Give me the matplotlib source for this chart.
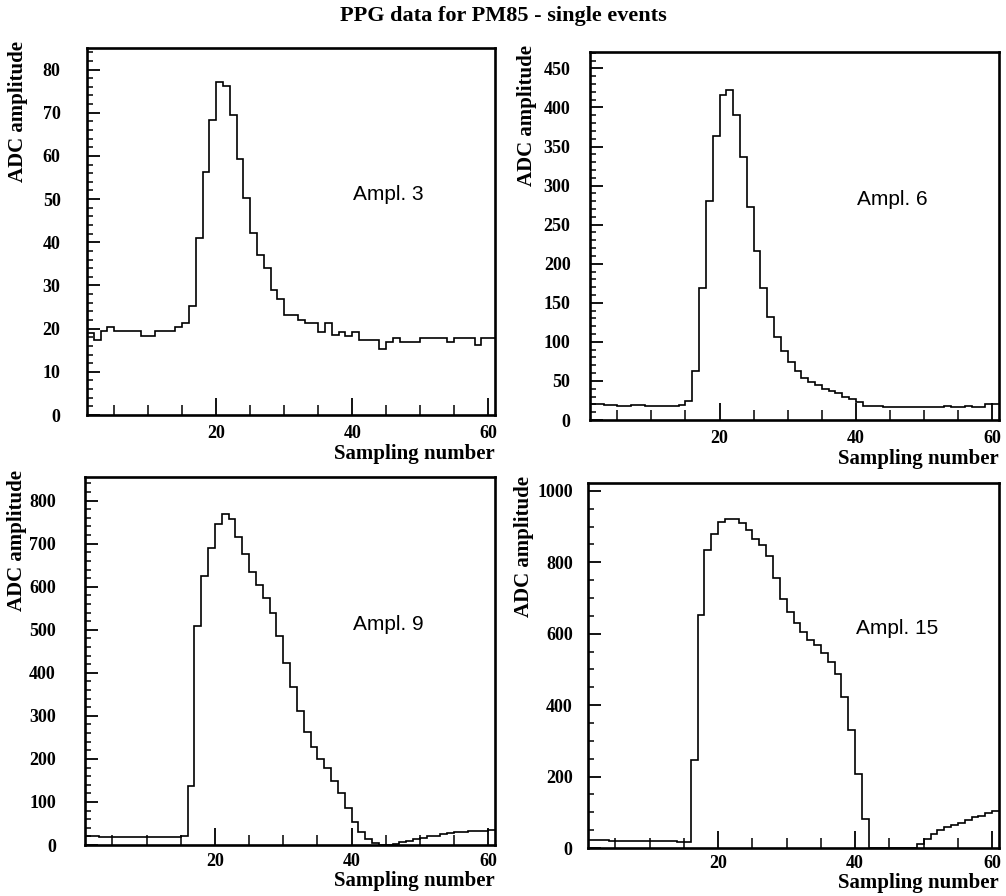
import numpy as np
import matplotlib
matplotlib.use("Agg")
import matplotlib.pyplot as plt
from matplotlib.ticker import MultipleLocator

# sampling bins 1..61 (60 samples)
edges = np.arange(1, 62)

ampl3 = [19.0, 17.4, 19.4, 20.4, 19.4, 19.4, 19.4, 19.4, 18.2, 18.2,
         19.4, 19.4, 19.4, 20.4, 21.4, 25.3, 41.1, 56.3, 68.4, 77.2,
         76.2, 69.4, 59.3, 50.2, 42.1, 37.0, 34.1, 28.9, 26.9, 23.2,
         23.2, 22.0, 21.2, 21.2, 19.3, 21.2, 18.5, 19.3, 18.3, 19.3,
         17.4, 17.4, 17.4, 15.3, 17.0, 17.9, 17.0, 17.0, 17.0, 17.9,
         17.9, 17.9, 17.9, 17.0, 17.9, 17.9, 17.9, 16.2, 17.9, 17.9]

ampl6 = [20, 20, 19, 19, 18.5, 18.5, 19.5, 19.5, 18, 18,
         18, 18, 18, 19.5, 24.5, 63, 169, 280, 364, 416,
         423, 391, 337, 273, 216, 169, 132, 106, 88, 74,
         63, 53.5, 49, 44.6, 40.3, 37.3, 34, 30, 26.7, 22.5,
         18, 18, 18, 16, 16, 16, 16, 16, 17, 16,
         17, 17, 18, 17, 17, 18, 17, 17, 20, 20]

ampl9 = [20, 20, 19, 19, 19, 19, 19, 19, 19, 19,
         19, 19, 19, 19, 20, 137, 508, 626, 691, 746,
         770, 758, 715, 675, 634, 603, 574, 539, 485, 423,
         366, 312, 263, 227, 199, 178, 149, 121, 87, 54,
         31, 13, 4, 1, 0, 3, 6, 10, 14, 17,
         20, 22, 25, 27, 30, 31, 32, 32, 33, 36]

ampl15 = [22, 22, 22, 21, 21, 21, 20, 20, 20, 20,
          19, 19, 19, 18, 18, 246, 652, 835, 879, 914,
          920, 921, 909, 890, 865, 849, 818, 756, 698, 661,
          629, 605, 583, 568, 545, 521, 487, 424, 330, 206,
          82, 0, 0, 0, 0, 0, 0, 0, 10, 24,
          38, 51, 58, 65, 70, 79, 86, 91, 98, 104]

series = [ampl3, ampl6, ampl9, ampl15]
labels = ["Ampl. 3", "Ampl. 6", "Ampl. 9", "Ampl. 15"]
ymax = [85, 471, 855, 1022]
ymajor = [10, 50, 100, 200]
yminor = [2, 10, 20, 50]
ypad = [19, 14, 21, 11]
ylab_px = [18, 527, 17, 524]          # centre of the y label, pixels
xtickpad = [7, 7, 6, 5]
xlabpad = [1.5, 1.5, 0.5, 0.5]

W, H = 1006, 896
# axes boxes in pixels: left, top, right, bottom
boxes = [(87, 48, 495, 415), (590, 52, 999, 420),
         (85, 477, 495, 845), (588, 483, 999, 848)]

serif = "Liberation Serif"
fig = plt.figure(figsize=(W / 100, H / 100), dpi=100)

for i, vals in enumerate(series):
    l, t, r, b = boxes[i]
    ax = fig.add_axes([l / W, 1 - b / H, (r - l) / W, (b - t) / H])
    ax.stairs(vals, edges, baseline=None, color="black", linewidth=1.2)
    ax.set_xlim(1, 61)
    ax.set_ylim(0, ymax[i])

    ax.xaxis.set_major_locator(MultipleLocator(20))
    ax.xaxis.set_minor_locator(MultipleLocator(5))
    ax.yaxis.set_major_locator(MultipleLocator(ymajor[i]))
    ax.yaxis.set_minor_locator(MultipleLocator(yminor[i]))
    ax.tick_params(axis="x", which="major", direction="in", length=12, width=1.3,
                   pad=xtickpad[i])
    ax.tick_params(axis="x", which="minor", direction="in", length=7, width=1.1)
    ax.tick_params(axis="y", which="major", direction="in", length=9, width=1.3, pad=ypad[i])
    ax.tick_params(axis="y", which="minor", direction="in", length=4.5, width=1.1)

    for lab in ax.get_xticklabels() + ax.get_yticklabels():
        lab.set_fontfamily(serif)
        lab.set_fontweight("bold")
        lab.set_fontsize(13)

    for sp in ax.spines.values():
        sp.set_linewidth(1.9)

    ax.set_xlabel("Sampling number", loc="right", fontfamily=serif,
                  fontweight="bold", fontsize=15, labelpad=xlabpad[i])
    ax.set_ylabel("ADC amplitude", fontfamily=serif, fontweight="bold", fontsize=15)
    ax.yaxis.set_label_coords((ylab_px[i] - l) / (r - l), 1.02)
    ax.yaxis.label.set_verticalalignment("center")
    ax.yaxis.label.set_horizontalalignment("right")

    ax.text(0.653, 0.60, labels[i], transform=ax.transAxes, ha="left", va="center",
            fontfamily="Liberation Sans", fontsize=15)

fig.text(0.5, 1 - 16 / H, "PPG data for PM85 - single events", ha="center", va="center",
         fontfamily=serif, fontweight="bold", fontsize=16)

fig.savefig("out.png", dpi=100)
